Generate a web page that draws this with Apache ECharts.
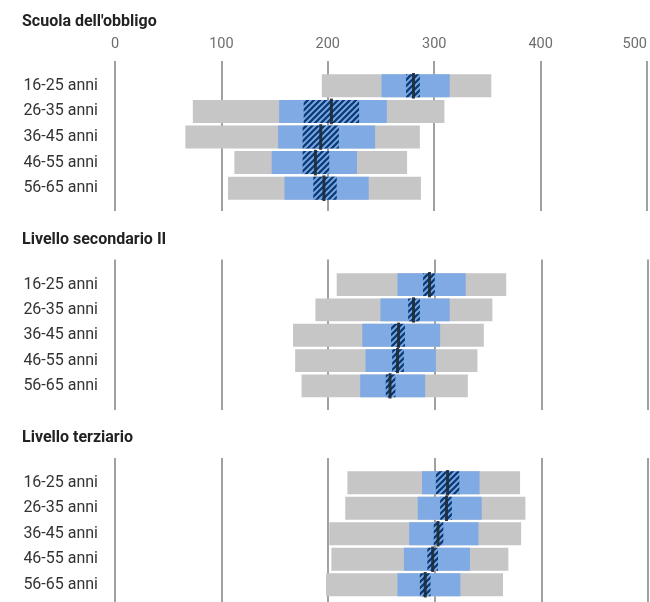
<!DOCTYPE html>
<html>
<head>
<meta charset="utf-8">
<script src="https://cdn.jsdelivr.net/npm/echarts@6/dist/echarts.min.js"></script>
<style>html,body{margin:0;padding:0;background:#fff}#c{width:650px;height:602px}</style>
</head>
<body>
<div id="c"></div>
<script>
// ---- data ----
const categories = ['16-25 anni', '26-35 anni', '36-45 anni', '46-55 anni', '56-65 anni'];
const panelTitles = ["Scuola dell'obbligo", 'Livello secondario II', 'Livello terziario'];
const xTicks = [0, 100, 200, 300, 400, 500];

// Scuola dell'obbligo
const obbligo_p5   = [194, 73, 66, 112, 106];
const obbligo_p95  = [353, 309, 286, 274, 287];
const obbligo_p25  = [250, 154, 153, 147, 159];
const obbligo_p75  = [314, 255, 244, 227, 238];
const obbligo_ciLo = [273, 177, 176, 176, 186];
const obbligo_ciHi = [286, 229, 210, 201, 208];
const obbligo_mean = [280, 203, 193, 188, 196];

// Livello secondario II
const sec_p5   = [208, 188, 167, 169, 175];
const sec_p95  = [367, 354, 346, 340, 331];
const sec_p25  = [265, 249, 232, 235, 230];
const sec_p75  = [329, 314, 305, 301, 291];
const sec_ciLo = [289, 275, 259, 260, 254];
const sec_ciHi = [300, 286, 272, 271, 263];
const sec_mean = [295, 280, 266, 265, 258];

// Livello terziario
const ter_p5   = [218, 216, 201, 203, 198];
const ter_p95  = [380, 385, 381, 369, 364];
const ter_p25  = [288, 284, 276, 271, 265];
const ter_p75  = [342, 344, 341, 333, 324];
const ter_ciLo = [301, 305, 299, 293, 286];
const ter_ciHi = [323, 316, 308, 303, 296];
const ter_mean = [312, 311, 303, 298, 291];

const panels = [
  {p5: obbligo_p5, p95: obbligo_p95, p25: obbligo_p25, p75: obbligo_p75, ciLo: obbligo_ciLo, ciHi: obbligo_ciHi, mean: obbligo_mean},
  {p5: sec_p5, p95: sec_p95, p25: sec_p25, p75: sec_p75, ciLo: sec_ciLo, ciHi: sec_ciHi, mean: sec_mean},
  {p5: ter_p5, p95: ter_p95, p25: ter_p25, p75: ter_p75, ciLo: ter_ciLo, ciHi: ter_ciHi, mean: ter_mean}
];

// ---- layout ----
const LEFT = 115, RIGHT = 2;
const lineGrids = [{top: 61, height: 150}, {top: 259.5, height: 150.5}, {top: 458, height: 144}];
const barGrids  = [{top: 73, height: 128}, {top: 272, height: 126.5}, {top: 470, height: 127.5}];
const titleTops = [14, 232, 430];

const GRAY = '#c6c6c6', BLUE = '#80aae4', HATCH = '#0a3d78', MEAN = '#1f2a36';
const FONT = 'Roboto';

// hatch pattern
const pc = document.createElement('canvas');
pc.width = 6; pc.height = 6;
const g = pc.getContext('2d');
g.fillStyle = BLUE; g.fillRect(0, 0, 6, 6);
g.strokeStyle = HATCH; g.lineWidth = 2.3;
g.beginPath();
g.moveTo(-1, 7); g.lineTo(7, -1);
g.moveTo(-4, 4); g.lineTo(4, -4);
g.moveTo(2, 10); g.lineTo(10, 2);
g.stroke();
const hatchFill = {image: pc, repeat: 'repeat'};

function rangeRender(fill, ratio) {
  return function (params, api) {
    const c = api.value(2);
    const a = api.coord([api.value(0), c]);
    const b = api.coord([api.value(1), c]);
    const h = api.size([0, 1])[1] * ratio;
    return {type: 'rect', shape: {x: a[0], y: a[1] - h / 2, width: b[0] - a[0], height: h}, style: {fill: fill}};
  };
}
function meanRender(params, api) {
  const c = api.value(1);
  const p = api.coord([api.value(0), c]);
  const h = api.size([0, 1])[1] * 1.0;
  return {type: 'rect', shape: {x: p[0] - 1.5, y: p[1] - h / 2, width: 3, height: h}, style: {fill: MEAN, opacity: 0.9}};
}

const grid = [], xAxis = [], yAxis = [], series = [], title = [];
panels.forEach((pn, k) => {
  // gridline grid
  grid.push({left: LEFT, right: RIGHT, top: lineGrids[k].top, height: lineGrids[k].height});
  xAxis.push({
    type: 'value', gridIndex: 2 * k, min: xTicks[0], max: xTicks[xTicks.length - 1], interval: xTicks[1] - xTicks[0],
    position: 'top',
    axisLine: {show: false}, axisTick: {show: false},
    axisLabel: {show: k === 0, color: '#6e6e6e', fontSize: 14.5, fontFamily: FONT, margin: 9, alignMaxLabel: 'right'},
    splitLine: {show: true, lineStyle: {color: '#8a8a8a', width: 1.6}}
  });
  yAxis.push({type: 'category', gridIndex: 2 * k, data: categories, show: false});
  // bar grid
  grid.push({left: LEFT, right: RIGHT, top: barGrids[k].top, height: barGrids[k].height});
  xAxis.push({
    type: 'value', gridIndex: 2 * k + 1, min: xTicks[0], max: xTicks[xTicks.length - 1], interval: xTicks[1] - xTicks[0],
    show: false, splitLine: {show: false}
  });
  yAxis.push({
    type: 'category', gridIndex: 2 * k + 1, data: categories, inverse: true,
    axisLine: {show: false}, axisTick: {show: false},
    axisLabel: {color: '#333', fontSize: 16, fontFamily: FONT, align: 'right', margin: 17}
  });
  const xi = 2 * k + 1, yi = 2 * k + 1;
  const mk = (lo, hi) => categories.map((c, i) => [lo[i], hi[i], i]);
  series.push({type: 'custom', xAxisIndex: xi, yAxisIndex: yi, renderItem: rangeRender(GRAY, 0.9), data: mk(pn.p5, pn.p95), encode: {x: [0, 1], y: 2}, silent: true});
  series.push({type: 'custom', xAxisIndex: xi, yAxisIndex: yi, renderItem: rangeRender(BLUE, 0.9), data: mk(pn.p25, pn.p75), encode: {x: [0, 1], y: 2}, silent: true});
  series.push({type: 'custom', xAxisIndex: xi, yAxisIndex: yi, renderItem: rangeRender(hatchFill, 0.9), data: mk(pn.ciLo, pn.ciHi), encode: {x: [0, 1], y: 2}, silent: true});
  series.push({type: 'custom', xAxisIndex: xi, yAxisIndex: yi, renderItem: meanRender, data: categories.map((c, i) => [pn.mean[i], i]), encode: {x: 0, y: 1}, silent: true});
  title.push({text: panelTitles[k], left: 22, top: titleTops[k], padding: 0, textStyle: {fontSize: 16, fontWeight: 'bold', color: '#222', fontFamily: FONT}});
});

const chart = echarts.init(document.getElementById('c'), null, {renderer: 'canvas'});
chart.setOption({animation: false, title, grid, xAxis, yAxis, series});
</script>
</body>
</html>
